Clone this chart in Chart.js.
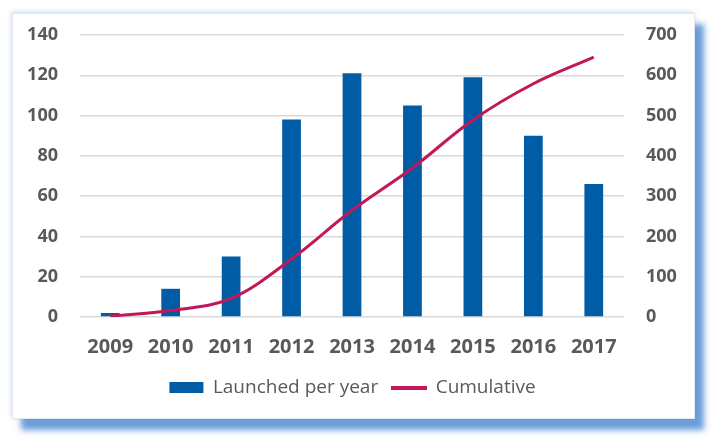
<!DOCTYPE html>
<html>
<head>
<meta charset="utf-8">
<script src="https://cdn.jsdelivr.net/npm/chart.js@4"></script>
<style>
  html, body { margin: 0; padding: 0; background: #fff; }
  #wrap { position: relative; width: 716px; height: 439px; overflow: hidden; }
  #card {
    position: absolute; left: 12px; top: 13px; width: 681px; height: 404px;
    background: #fff; border: 1px solid #e4e8ee;
    box-shadow: 9px 11px 6px rgba(80, 140, 210, 0.85), -1px -1px 4px rgba(150, 185, 225, 0.5);
  }
  #chart { position: absolute; left: 0; top: 0; }
</style>
</head>
<body>
<div id="wrap">
  <div id="card"></div>
  <canvas id="chart" width="716" height="439"></canvas>
</div>
<script>
const years = ["2009", "2010", "2011", "2012", "2013", "2014", "2015", "2016", "2017"];
const launched = [2, 14, 30, 98, 121, 105, 119, 90, 66];
const cumulative = [2, 16, 46, 144, 265, 370, 489, 579, 645];

const grey = "#595959";
const blue = "#005CA5";
const red = "#C2185B";

// legend swatch for the line series (a short thick stroke)
const lineSwatch = document.createElement("canvas");
lineSwatch.width = 36;
lineSwatch.height = 4;
const sctx = lineSwatch.getContext("2d");
sctx.fillStyle = red;
sctx.fillRect(0, 0, 36, 4);

new Chart(document.getElementById("chart"), {
  type: "bar",
  data: {
    labels: years,
    datasets: [
      {
        label: "Launched per year",
        data: launched,
        backgroundColor: blue,
        borderWidth: 0,
        yAxisID: "y",
        barPercentage: 0.62,
        categoryPercentage: 0.5,
        pointStyle: "rect",
        order: 2,
      },
      {
        type: "line",
        label: "Cumulative",
        data: cumulative,
        borderColor: red,
        backgroundColor: red,
        borderWidth: 3,
        pointRadius: 0,
        tension: 0.35,
        yAxisID: "y1",
        pointStyle: lineSwatch,
        order: 1,
      },
    ],
  },
  options: {
    responsive: false,
    animation: false,
    layout: {
      padding: { left: 24, right: 35, top: 35, bottom: 32 },
    },
    plugins: {
      legend: {
        position: "bottom",
        labels: {
          usePointStyle: true,
          pointStyleWidth: 34,
          boxHeight: 11,
          color: grey,
          padding: 14,
          font: { family: "Open Sans", size: 19 },
          sort: (a, b) => a.datasetIndex - b.datasetIndex,
        },
      },
      tooltip: { enabled: false },
    },
    scales: {
      x: {
        grid: { display: true, color: "rgba(0,0,0,0)", drawOnChartArea: false, drawTicks: true, tickLength: 15, tickColor: "rgba(0,0,0,0)" },
        border: { display: false },
        ticks: {
          color: grey,
          padding: 3,
          font: { family: "Open Sans", size: 20, weight: "bold" },
        },
        afterFit: (scale) => { scale.height += 2; },
      },
      y: {
        position: "left",
        min: 0,
        max: 140,
        ticks: {
          stepSize: 20,
          color: grey,
          padding: 22,
          font: { family: "Open Sans", size: 18, weight: "bold" },
        },
        grid: { color: "#d9d9d9", lineWidth: 1.5, drawTicks: false },
        border: { display: false },
        afterFit: (scale) => { scale.width = 56; },
      },
      y1: {
        position: "right",
        min: 0,
        max: 700,
        ticks: {
          stepSize: 100,
          color: grey,
          padding: 22,
          font: { family: "Open Sans", size: 18, weight: "bold" },
        },
        grid: { display: false, drawTicks: false },
        border: { display: false },
        afterFit: (scale) => { scale.width = 57; },
      },
    },
  },
});
</script>
</body>
</html>
